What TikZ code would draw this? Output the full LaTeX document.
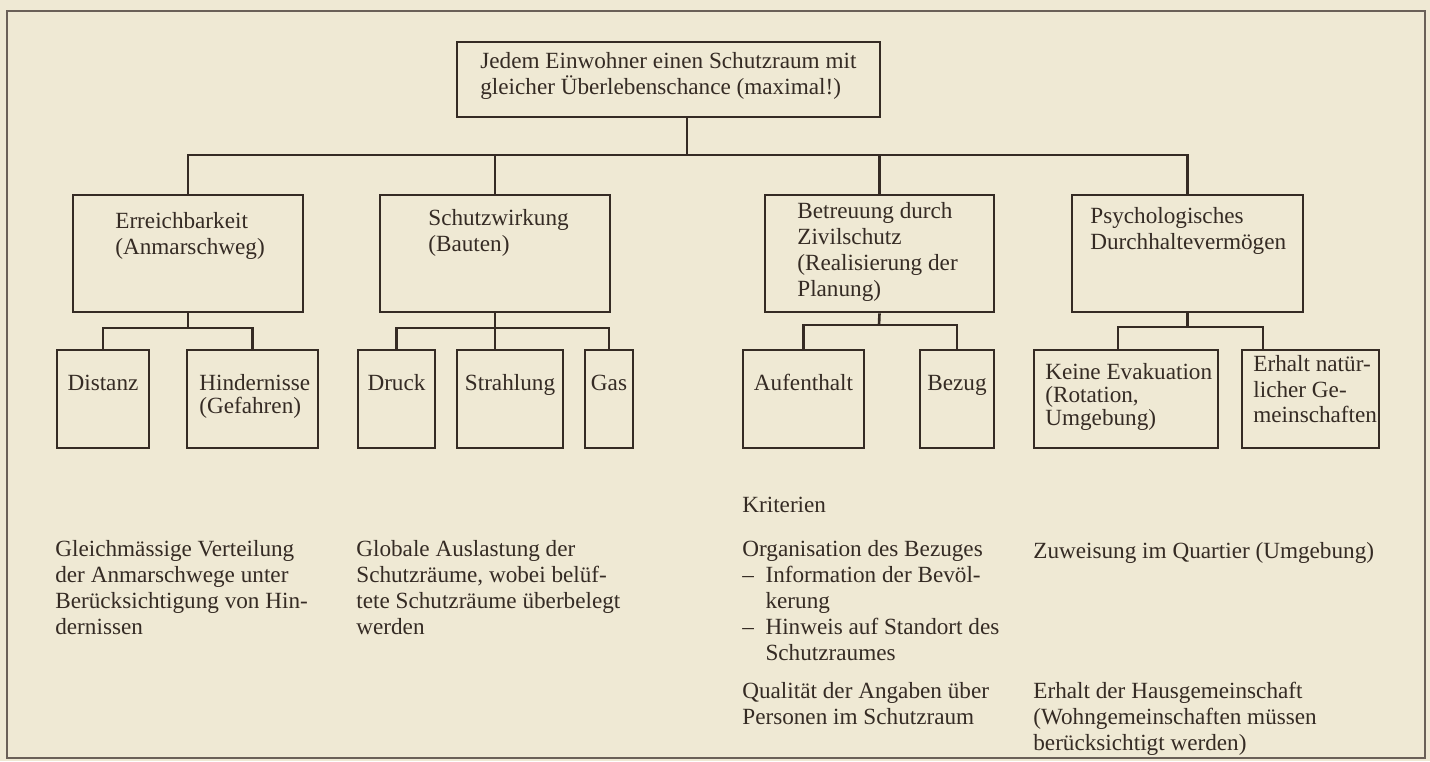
\documentclass[tikz,border=0pt]{standalone}
\usepackage{fontspec}
\setmainfont{Liberation Serif}
\usetikzlibrary{positioning,fit,calc}
\definecolor{cPaper}{HTML}{EFE9D4}
\definecolor{cInk}{HTML}{352B24}
\definecolor{cFrame}{HTML}{6A6058}
\newcommand{\diafont}{\fontsize{13.2}{14.8}\selectfont}
\newcommand{\leaffont}{\fontsize{13.2}{13.1}\selectfont}
\tikzset{
  box/.style={draw=cInk, line width=1.5pt, inner sep=0pt},
  txt/.style={inner sep=0pt, align=left, anchor=north west, text=cInk,
              font=\diafont, execute at begin node=\strut},
  leaf/.style={txt, font=\leaffont},
  leafc/.style={leaf, anchor=north},
  link/.style={draw=cInk, line width=1.5pt},
}

\begin{document}
\begin{tikzpicture}[x=0.02cm, y=-0.02cm]
  \fill[cPaper] (0,0) rectangle (1430,761);
  \draw[cFrame, line width=0.8pt] (7,11) rectangle (1425,758);

  % goal
  \node[box, fit={(457,42) (880,117)}] (goal) {};
  \node[txt] (goaltx) at (480,52) {Jedem Einwohner einen Schutzraum mit\\gleicher Überlebenschance (maximal!)};

  % second level
  \node[box, fit={(73,195) (303,312)}] (reach) {};
  \node[box, fit={(380,195) (610,312)}] (prot) {};
  \node[box, fit={(765,195) (994,312)}] (care) {};
  \node[box, fit={(1072,195) (1303,312)}] (psych) {};
  \node[txt] (reachtx) at (115,212) {Erreichbarkeit\\(Anmarschweg)};
  \node[txt] (prottx) at (428,209) {Schutzwirkung\\(Bauten)};
  \node[txt] (caretx) at (797,202) {Betreuung durch\\Zivilschutz\\(Realisierung der\\Planung)};
  \node[txt] (psychtx) at (1090,207) {Psychologisches\\Durchhaltevermögen};

  % third level
  \node[box, fit={(57,350) (149,448)}] (dist) {};
  \node[box, fit={(187,350) (318,448)}] (obst) {};
  \node[box, fit={(358,350) (435,448)}] (press) {};
  \node[box, fit={(457,350) (563,448)}] (rad) {};
  \node[box, fit={(585,350) (633,448)}] (gas) {};
  \node[box, fit={(743,350) (864,448)}] (stay) {};
  \node[box, fit={(920,350) (994,448)}] (entry) {};
  \node[box, fit={(1034,350) (1218,448)}] (evac) {};
  \node[box, fit={(1242,350) (1379,448)}] (comm) {};
  \node[leafc] (disttx) at (103,374) {Distanz};
  \node[leaf] (obsttx) at (199,374) {Hindernisse\\(Gefahren)};
  \node[leafc] (presstx) at (396.5,374) {Druck};
  \node[leafc] (radtx) at (510,374) {Strahlung};
  \node[leafc] (gastx) at (609,374) {Gas};
  \node[leafc] (staytx) at (803.5,374) {Aufenthalt};
  \node[leafc] (entrytx) at (957,374) {Bezug};
  \node[leaf] (evactx) at (1045,363) {Keine Evakuation\\(Rotation,\\Umgebung)};
  \node[leaf] (commtx) at (1253,355) {Erhalt natür-\\[1.5pt]licher Ge-\\[1.5pt]meinschaften};

  % criteria
  \node[txt] (crreach) at (55,540) {Gleichmässige Verteilung\\der Anmarschwege unter\\Berücksichtigung von Hin-\\dernissen};
  \node[txt] (crprot) at (356,540) {Globale Auslastung der\\Schutzräume, wobei belüf-\\tete Schutzräume überbelegt\\werden};
  \node[txt] (crhead) at (742,494) {Kriterien};
  \node[txt] (crorg) at (742,540) {Organisation des Bezuges\\\makebox[1em][l]{–}Information der Bevöl-\\\hspace*{1em}kerung\\\makebox[1em][l]{–}Hinweis auf Standort des\\\hspace*{1em}Schutzraumes};
  \node[txt] (crqual) at (742,682) {Qualität der Angaben über\\Personen im Schutzraum};
  \node[txt] (crzuw) at (1033,540) {Zuweisung im Quartier (Umgebung)};
  \node[txt] (crhaus) at (1033,682) {Erhalt der Hausgemeinschaft\\(Wohngemeinschaften müssen\\berücksichtigt werden)};

  % connectors
  \coordinate (hub) at (687,155);
  \draw[link] (goal.south -| hub) -- (hub);
  \draw[link] (reach.north) |- (psych.north |- hub) -- (psych.north);
  \draw[link] (prot.north) -- (prot.north |- hub);
  \draw[link] (care.north) -- (care.north |- hub);

  \coordinate (busA) at (188,328);
  \draw[link] (reach.south) -- (busA);
  \draw[link] (dist.north) |- (obst.north |- busA) -- (obst.north);

  \coordinate (busB) at (495,328);
  \draw[link] (prot.south) -- (prot.south |- rad.north);
  \draw[link] (press.north) |- (gas.north |- busB) -- (gas.north);

  \coordinate (busC) at (879,325);
  \draw[link] (care.south) -- (busC);
  \draw[link] (stay.north) |- (entry.north |- busC) -- (entry.north);

  \coordinate (busDl) at (1118,327);
  \coordinate (busDr) at (1263,327);
  \draw[link] (psych.south) -- (psych.south |- busDl);
  \draw[link] (evac.north -| busDl) -- (busDl) -- (busDr) -- (comm.north -| busDr);
\end{tikzpicture}
\end{document}
